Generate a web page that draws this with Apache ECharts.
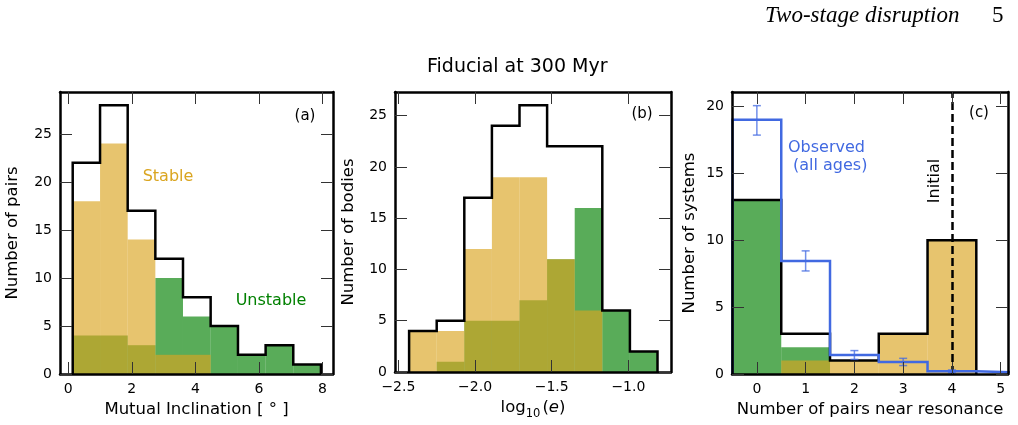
<!DOCTYPE html>
<html><head><meta charset="utf-8">
<script src="https://cdn.jsdelivr.net/npm/echarts@6/dist/echarts.min.js"></script>
<style>html,body{margin:0;padding:0;background:#fff}#c{width:1018px;height:425px}</style>
</head><body><div id="c"></div>
<script>
// ---- Panel (a): mutual inclination (degrees) ----
const incEdges = [0.14, 1.0, 1.87, 2.74, 3.61, 4.48, 5.34, 6.21, 7.08, 7.95];
const incStable = [18, 24, 14, 2, 2, 0, 0, 0, 0];
const incUnstable = [4, 4, 3, 10, 6, 5, 2, 3, 1];
const incTotal = [22, 28, 17, 12, 8, 5, 2, 3, 1];
const incXTicks = [0, 2, 4, 6, 8];
const incYTicks = [0, 5, 10, 15, 20, 25];

// ---- Panel (b): log10 eccentricity ----
const eccEdges = [-2.43, -2.25, -2.07, -1.89, -1.71, -1.53, -1.35, -1.17, -0.99, -0.81];
const eccStable = [4, 4, 12, 19, 19, 11, 6, 0, 0];
const eccUnstable = [0, 1, 5, 5, 7, 11, 16, 6, 2];
const eccTotal = [4, 5, 17, 24, 26, 22, 22, 6, 2];
const eccXTicks = [-2.5, -2.0, -1.5, -1.0];
const eccYTicks = [0, 5, 10, 15, 20, 25];

// ---- Panel (c): number of pairs near resonance ----
const resEdges = [-0.5, 0.5, 1.5, 2.5, 3.5, 4.5];
const resStable = [0, 1, 1, 3, 10];
const resUnstable = [13, 2, 0, 0, 0];
const resTotal = [13, 3, 1, 3, 10];
const obsEdges = [-0.5, 0.5, 1.5, 2.5, 3.5, 4.5, 5.5];
const obsCounts = [19, 8.45, 1.42, 0.9, 0.2, 0.1];
const obsErrX = [0, 1, 2, 3, 4];
const obsErrY = [18.95, 8.45, 1.42, 0.9, 0.2];
const obsErr = [1.1, 0.75, 0.33, 0.27, 0.1];
const initialPairs = 4;
const resXTicks = [0, 1, 2, 3, 4, 5];
const resYTicks = [0, 5, 10, 15, 20];

const FONT = 'DejaVu Sans';
const C_STABLE = 'rgba(218,165,32,0.65)';
const C_UNSTABLE = 'rgba(0,128,0,0.65)';
const C_OBS = '#4169E1';

const grids = [
  {left: 60, top: 92, width: 273, height: 282},
  {left: 395, top: 92, width: 276, height: 282},
  {left: 732, top: 92, width: 276, height: 282}
];
const xAxes = [], yAxes = [], series = [];

function fmtNum(v) { return (v < 0 ? '\u2212' : '') + Math.abs(v); }
function fmtDec(v) { return (v < 0 ? '\u2212' : '') + Math.abs(v).toFixed(1); }

function addAxes(g, xmin, xmax, xticks, xfmt, ymax, yticks, xname, xnameStyle, yname, yGap) {
  const tick = (vals) => ({show: true, inside: true, length: 12, customValues: vals, lineStyle: {color: '#333', width: 1}});
  const line = {show: true, onZero: false, lineStyle: {color: '#000', width: 2.5}};
  const lab = {fontFamily: FONT, fontSize: 14, color: '#000'};
  xAxes.push({type: 'value', gridIndex: g, position: 'bottom', min: xmin, max: xmax, z: 10,
    axisLine: line, axisTick: tick(xticks),
    axisLabel: Object.assign({customValues: xticks, formatter: xfmt, margin: 8}, lab),
    splitLine: {show: false}, name: xname, nameLocation: 'middle', nameGap: 27,
    nameTextStyle: xnameStyle});
  xAxes.push({type: 'value', gridIndex: g, position: 'top', min: xmin, max: xmax, z: 10,
    axisLine: line, axisTick: tick(xticks), axisLabel: {show: false}, splitLine: {show: false}});
  yAxes.push({type: 'value', gridIndex: g, position: 'left', min: 0, max: ymax, z: 10,
    axisLine: line, axisTick: tick(yticks),
    axisLabel: Object.assign({customValues: yticks, formatter: fmtNum, margin: 8}, lab),
    splitLine: {show: false}, name: yname, nameLocation: 'middle', nameGap: yGap,
    nameTextStyle: {fontFamily: FONT, fontSize: 16.5, color: '#000'}});
  yAxes.push({type: 'value', gridIndex: g, position: 'right', min: 0, max: ymax, z: 10,
    axisLine: line, axisTick: tick(yticks), axisLabel: {show: false}, splitLine: {show: false}});
}

function rectSeries(g, edges, vals, color, z) {
  return {type: 'custom', xAxisIndex: 2 * g, yAxisIndex: 2 * g, z: z, silent: true,
    data: vals.map((v, i) => [edges[i], edges[i + 1], v]),
    encode: {x: [0, 1], y: 2},
    renderItem: function (p, api) {
      const a = api.coord([api.value(0), api.value(2)]);
      const b = api.coord([api.value(1), 0]);
      return {type: 'rect', shape: {x: a[0], y: a[1], width: b[0] - a[0], height: b[1] - a[1]},
        style: {fill: color}};
    }};
}
function stepPoints(edges, vals) {
  const pts = [[edges[0], 0]];
  vals.forEach((v, i) => { pts.push([edges[i], v]); pts.push([edges[i + 1], v]); });
  pts.push([edges[edges.length - 1], 0]);
  return pts;
}
function stepSeries(g, edges, vals, color, z) {
  return {type: 'line', xAxisIndex: 2 * g, yAxisIndex: 2 * g, z: z, silent: true, clip: true,
    data: stepPoints(edges, vals), symbol: 'none',
    lineStyle: {color: color, width: 2.5, join: 'miter', cap: 'butt'}};
}

const nameStyle = {fontFamily: FONT, fontSize: 16.5, color: '#000'};
addAxes(0, -0.26, 8.33, incXTicks, fmtNum, 29.37, incYTicks,
  'Mutual Inclination [ \u00B0 ]', nameStyle, 'Number of pairs', 39);
addAxes(1, -2.522, -0.722, eccXTicks, fmtDec, 27.3, eccYTicks,
  '{n|log}{s|10}{n|(}{i|e}{n|)}',
  {fontFamily: FONT, fontSize: 16.5, color: '#000',
    rich: {n: {fontFamily: FONT, fontSize: 16.5, color: '#000', verticalAlign: 'bottom', padding: [0, 0, 4, 0]},
      i: {fontFamily: FONT, fontSize: 16.5, fontStyle: 'italic', color: '#000', verticalAlign: 'bottom', padding: [0, 0, 4, 0]},
      s: {fontFamily: FONT, fontSize: 11.5, color: '#000', verticalAlign: 'bottom', padding: [0, 2, 0, 0]}}},
  'Number of bodies', 38);
addAxes(2, -0.51, 5.15, resXTicks, fmtNum, 21.07, resYTicks,
  'Number of pairs near resonance', nameStyle, 'Number of systems', 34);

// panel a
series.push(rectSeries(0, incEdges, incUnstable, C_UNSTABLE, 2));
series.push(rectSeries(0, incEdges, incStable, C_STABLE, 3));
series.push(stepSeries(0, incEdges, incTotal, '#000', 4));
// panel b
series.push(rectSeries(1, eccEdges, eccUnstable, C_UNSTABLE, 2));
series.push(rectSeries(1, eccEdges, eccStable, C_STABLE, 3));
series.push(stepSeries(1, eccEdges, eccTotal, '#000', 4));
// panel c
series.push(rectSeries(2, resEdges, resUnstable, C_UNSTABLE, 2));
series.push(rectSeries(2, resEdges, resStable, C_STABLE, 3));
const totC = stepSeries(2, resEdges, resTotal, '#000', 4);
totC.markLine = {symbol: 'none', silent: true, label: {show: false}, animation: false,
  lineStyle: {type: [8, 4], color: '#000', width: 2.5}, data: [{xAxis: initialPairs}]};
series.push(totC);
series.push(stepSeries(2, obsEdges, obsCounts, C_OBS, 5));
series.push({type: 'custom', xAxisIndex: 4, yAxisIndex: 4, z: 5, silent: true, clip: true,
  data: obsErrX.map((x, i) => [x, obsErrY[i], obsErr[i]]),
  encode: {x: 0, y: 1},
  renderItem: function (p, api) {
    const x = api.value(0), y = api.value(1), e = api.value(2);
    const hi = api.coord([x, y + e]), lo = api.coord([x, y - e]);
    const st = {stroke: 'rgba(65,105,225,0.75)', lineWidth: 1.5};
    return {type: 'group', children: [
      {type: 'line', shape: {x1: hi[0], y1: hi[1], x2: lo[0], y2: lo[1]}, style: st},
      {type: 'line', shape: {x1: hi[0] - 4, y1: hi[1], x2: hi[0] + 4, y2: hi[1]}, style: st},
      {type: 'line', shape: {x1: lo[0] - 4, y1: lo[1], x2: lo[0] + 4, y2: lo[1]}, style: st}
    ]};
  }});

function txt(text, x, y, size, color, extra) {
  return Object.assign({type: 'text', x: x, y: y, z: 20, silent: true,
    style: {text: text, fontFamily: FONT, fontSize: size, fill: color, align: 'center', verticalAlign: 'middle'}}, extra || {});
}
const graphics = [
  {type: 'text', x: 765, y: 16, z: 20, style: {text: 'Two-stage disruption', fontFamily: 'Liberation Serif', fontStyle: 'italic', fontSize: 23, fill: '#000', align: 'left', verticalAlign: 'middle'}},
  {type: 'text', x: 992, y: 16, z: 20, style: {text: '5', fontFamily: 'Liberation Serif', fontSize: 23, fill: '#000', align: 'left', verticalAlign: 'middle'}},
  {type: 'text', x: 427, y: 67, z: 20, style: {text: 'Fiducial at 300 Myr', fontFamily: FONT, fontSize: 19, fill: '#000', align: 'left', verticalAlign: 'middle'}},
  txt('(a)', 305, 116, 15, '#000'),
  txt('(b)', 642, 114, 15, '#000'),
  txt('(c)', 979, 113, 15, '#000'),
  txt('Stable', 168, 177, 16, '#DAA520'),
  txt('Unstable', 271, 301, 16, '#008000'),
  {type: 'text', x: 788, y: 148, z: 20, style: {text: 'Observed', fontFamily: FONT, fontSize: 16, fill: C_OBS, align: 'left', verticalAlign: 'middle'}},
  {type: 'text', x: 793, y: 166, z: 20, style: {text: '(all ages)', fontFamily: FONT, fontSize: 16, fill: C_OBS, align: 'left', verticalAlign: 'middle'}},
  txt('Initial', 935, 181, 16, '#000', {rotation: Math.PI / 2})
];

const chart = echarts.init(document.getElementById('c'), null, {renderer: 'canvas'});
chart.setOption({
  animation: false,
  backgroundColor: '#fff',
  grid: grids,
  xAxis: xAxes,
  yAxis: yAxes,
  series: series,
  graphic: graphics
});
</script></body></html>
